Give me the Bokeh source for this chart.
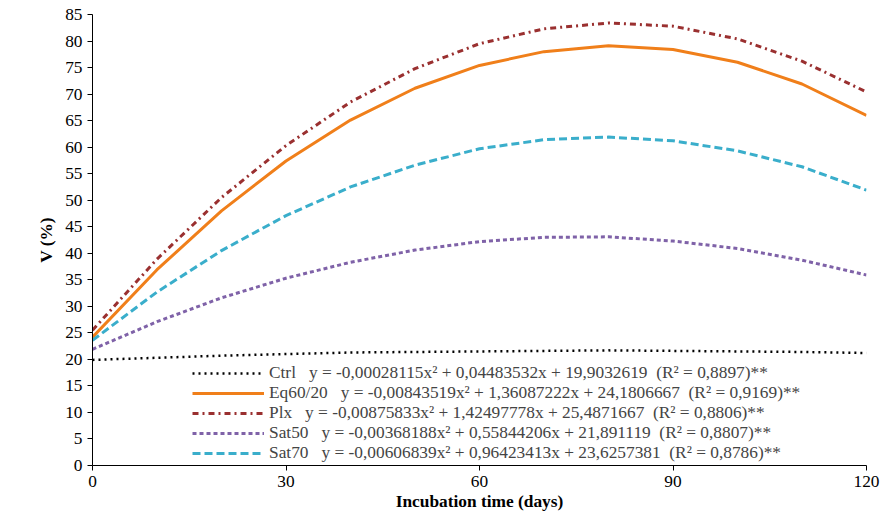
from bokeh.embed import file_html
from bokeh.models import Legend, Range1d, FixedTicker
from bokeh.plotting import figure
from bokeh.resources import INLINE

days = [0, 10, 20, 30, 40, 50, 60, 70, 80, 90, 100, 110, 120]
ctrl = [19.9, 20.3, 20.7, 21.0, 21.3, 21.4, 21.5, 21.6, 21.7, 21.6, 21.5, 21.4, 21.2]
eq6020 = [24.2, 36.9, 48.0, 57.4, 65.1, 71.1, 75.4, 78.0, 79.1, 78.4, 76.0, 71.9, 66.0]
plx = [25.5, 38.9, 50.5, 60.3, 68.5, 74.8, 79.5, 82.3, 83.4, 82.8, 80.4, 76.2, 70.4]
sat50 = [21.9, 27.1, 31.6, 35.3, 38.3, 40.6, 42.2, 43.0, 43.1, 42.3, 40.9, 38.7, 35.9]
sat70 = [23.6, 32.7, 40.5, 47.1, 52.5, 56.6, 59.7, 61.4, 61.9, 61.2, 59.3, 56.3, 51.9]

series = [
    ("Ctrl   y = -0,00028115x\u00b2 + 0,04483532x + 19,9032619  (R\u00b2 = 0,8897)**", ctrl, "black", "dotted", 2.5),
    ("Eq60/20   y = -0,00843519x\u00b2 + 1,36087222x + 24,1806667  (R\u00b2 = 0,9169)**", eq6020, "#f07f1a", "solid", 3),
    ("Plx   y = -0,00875833x\u00b2 + 1,42497778x + 25,4871667  (R\u00b2 = 0,8806)**", plx, "#9a3030", "dashdot", 3),
    ("Sat50   y = -0,00368188x\u00b2 + 0,55844206x + 21,891119  (R\u00b2 = 0,8807)**", sat50, "#7f62a8", "4 3", 3),
    ("Sat70   y = -0,00606839x\u00b2 + 0,96423413x + 23,6257381  (R\u00b2 = 0,8786)**", sat70, "#3aaecb", "8 4", 3),
]

font = "Liberation Serif"
p = figure(width=880, height=513, output_backend="svg", toolbar_location=None,
           x_range=Range1d(0, 120), y_range=Range1d(0, 85))
p.min_border_left = 92
p.min_border_right = 14
p.min_border_top = 14
items = []
for label, ys, color, dash, w in series:
    r = p.line(days, ys, line_color=color, line_dash=dash, line_width=w)
    items.append((label, [r]))

legend = Legend(items=items, location=(100, 2), label_text_font=font,
                label_text_font_size="13pt", label_height=10, glyph_width=72,
                glyph_height=12, spacing=0, padding=2, border_line_color=None,
                background_fill_alpha=0)
p.add_layout(legend, "center")

p.xgrid.visible = False
p.ygrid.visible = False
p.outline_line_color = None
p.xaxis.ticker = FixedTicker(ticks=[0, 30, 60, 90, 120])
p.yaxis.ticker = FixedTicker(ticks=list(range(0, 90, 5)))
for ax in (p.xaxis[0], p.yaxis[0]):
    ax.axis_line_color = "black"
    ax.major_tick_line_color = "black"
    ax.minor_tick_line_color = None
    ax.major_tick_in = 0
    ax.major_tick_out = 5
    ax.major_label_text_font = font
    ax.major_label_text_font_size = "13pt"
    ax.major_label_text_color = "black"
    ax.axis_label_text_font = font
    ax.axis_label_text_font_size = "13pt"
    ax.axis_label_text_font_style = "bold"
    ax.axis_label_text_color = "black"
p.xaxis.axis_label = "Incubation time (days)"
p.yaxis.axis_label = "V (%)"
p.xaxis.axis_label_standoff = 2
p.yaxis.axis_label_standoff = 6

open("out.html", "w").write(file_html(p, INLINE))
